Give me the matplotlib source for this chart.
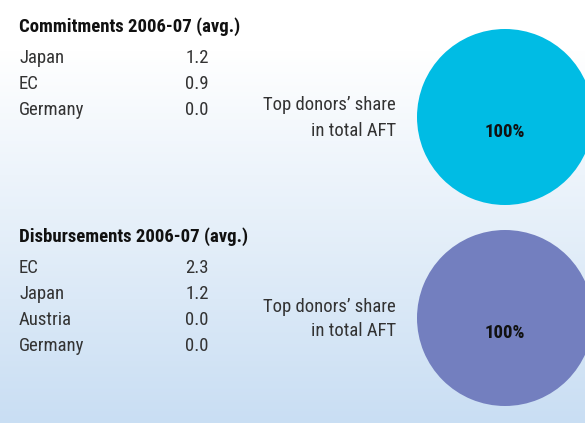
import numpy as np
import matplotlib.pyplot as plt
from matplotlib import font_manager

# prefer a condensed face if one is installed
names = {f.name for f in font_manager.fontManager.ttflist}
prefs = ['Roboto Condensed', 'Open Sans Condensed', 'Liberation Sans Narrow',
         'Noto Sans Condensed', 'DejaVu Sans Condensed', 'Roboto']
narrow = [n for n in prefs if n in names]
font = narrow[0] if narrow else 'DejaVu Sans'
plt.rcParams['font.family'] = [font, 'DejaVu Sans']
condensed = font != 'Roboto'
fs = 13.5 if condensed else 12.5

commit_title = "Commitments 2006-07 (avg.)"
commit_donors = ["Japan", "EC", "Germany"]
commit_values = [1.2, 0.9, 0.0]
commit_share = 100

disb_title = "Disbursements 2006-07 (avg.)"
disb_donors = ["EC", "Japan", "Austria", "Germany"]
disb_values = [2.3, 1.2, 0.0, 0.0]
disb_share = 100

share_label = "Top donors\u2019 share\nin total AFT"

W, H = 585, 423
fig = plt.figure(figsize=(W / 100, H / 100), dpi=100)
ax = fig.add_axes([0, 0, 1, 1])

# background gradient: white at top, light blue at bottom
rows = np.linspace(0, 1, H)
t = np.clip((rows - 0.12) / 0.88, 0, 1)
top = np.array([1.0, 1.0, 1.0])
bot = np.array([0xc9, 0xde, 0xf3]) / 255
grad = top[None, :] * (1 - t[:, None]) + bot[None, :] * t[:, None]
img = np.repeat(grad[:, None, :], 2, axis=1)
ax.imshow(img, extent=[0, W, H, 0], aspect='auto', zorder=0)

txt_color = '#333333'


def block(title, donors, values, share, y0, centre_y, colour):
    ax.text(19, y0, title, fontsize=fs, fontweight='semibold', color='#111111',
            va='center', ha='left')
    for i, (d, v) in enumerate(zip(donors, values)):
        y = y0 + 31 + i * 26
        ax.text(19, y, d, fontsize=fs, color=txt_color, va='center', ha='left')
        ax.text(209, y, f"{v:.1f}", fontsize=fs, color=txt_color,
                va='center', ha='right')
    ax.text(396, centre_y, share_label, fontsize=fs, color=txt_color,
            va='center', ha='right', linespacing=1.5)
    ax.pie([share], colors=[colour], radius=88, center=(505, centre_y - 1),
           startangle=90, counterclock=False)
    ax.text(505, centre_y + 14, f"{share}%", fontsize=fs, fontweight='bold',
            color='#111111', va='center', ha='center')


block(commit_title, commit_donors, commit_values, commit_share, 27, 118, '#00bce4')
block(disb_title, disb_donors, disb_values, disb_share, 237, 319, '#737fbf')

ax.set_xlim(0, W)
ax.set_ylim(H, 0)
ax.set_aspect('auto')
ax.axis('off')

fig.savefig('out.png', dpi=100)
